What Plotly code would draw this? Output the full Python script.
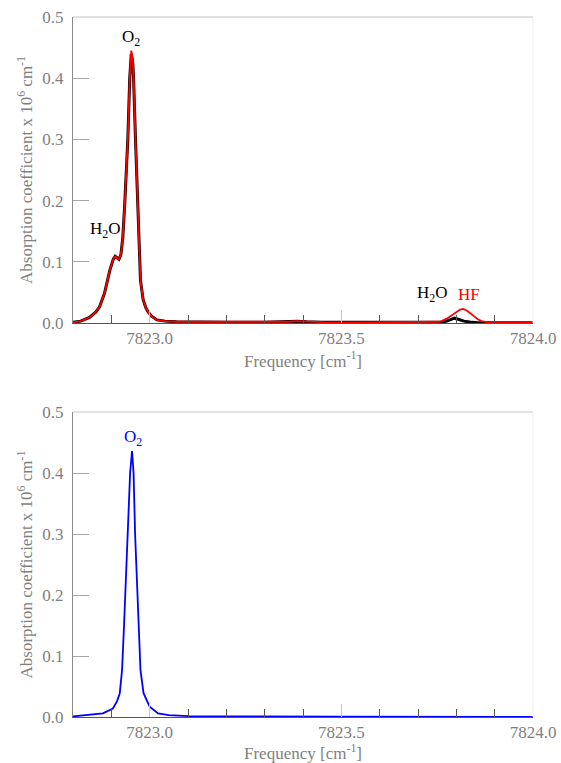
import plotly.graph_objects as go

# ---- data ----
top_black_x = [7822.80, 7822.82, 7822.843, 7822.86, 7822.869, 7822.882, 7822.896, 7822.905, 7822.910,
               7822.915, 7822.920, 7822.925, 7822.930, 7822.935, 7822.939, 7822.943, 7822.948, 7822.952,
               7822.956, 7822.958, 7822.963, 7822.966, 7822.970, 7822.973, 7822.976, 7822.983, 7822.990,
               7822.996, 7823.005, 7823.019, 7823.04, 7823.07, 7823.10, 7823.20, 7823.30, 7823.36,
               7823.385, 7823.41, 7823.45, 7823.55, 7823.62, 7823.70, 7823.76, 7823.775, 7823.785,
               7823.795, 7823.805, 7823.82, 7823.835, 7823.855, 7823.90, 7824.0]
top_black_y = [0.001, 0.003, 0.009, 0.018, 0.026, 0.048, 0.086, 0.104, 0.109,
               0.107, 0.104, 0.112, 0.140, 0.195, 0.250, 0.300, 0.400, 0.440,
               0.425, 0.400, 0.300, 0.250, 0.160, 0.110, 0.070, 0.038, 0.025,
               0.018, 0.011, 0.005, 0.003, 0.002, 0.0015, 0.001, 0.001, 0.002,
               0.003, 0.002, 0.001, 0.001, 0.001, 0.001, 0.001, 0.003, 0.006,
               0.0078, 0.006, 0.003, 0.0015, 0.0005, 0.0003, 0.0003]

top_red_x = [7822.80, 7822.82, 7822.843, 7822.86, 7822.869, 7822.882, 7822.896, 7822.905, 7822.910,
             7822.915, 7822.920, 7822.925, 7822.930, 7822.935, 7822.939, 7822.943, 7822.948, 7822.952,
             7822.956, 7822.958, 7822.963, 7822.966, 7822.970, 7822.973, 7822.976, 7822.983, 7822.990,
             7822.996, 7823.005, 7823.019, 7823.04, 7823.07, 7823.10, 7823.20, 7823.30, 7823.36,
             7823.385, 7823.41, 7823.45, 7823.55, 7823.62, 7823.70, 7823.74, 7823.757, 7823.775,
             7823.788, 7823.800, 7823.810, 7823.818, 7823.828, 7823.844, 7823.856, 7823.866,
             7823.88, 7823.90, 7824.0]
top_red_y = [0.001, 0.003, 0.009, 0.018, 0.026, 0.048, 0.086, 0.104, 0.109,
             0.107, 0.104, 0.112, 0.140, 0.195, 0.250, 0.300, 0.400, 0.445,
             0.430, 0.405, 0.300, 0.250, 0.160, 0.110, 0.070, 0.038, 0.025,
             0.018, 0.011, 0.005, 0.003, 0.002, 0.002, 0.0015, 0.0015, 0.002,
             0.003, 0.002, 0.0015, 0.001, 0.001, 0.001, 0.001, 0.002, 0.007,
             0.013, 0.018, 0.022, 0.023, 0.020, 0.012, 0.006, 0.003,
             0.0015, 0.001, 0.001]

bot_blue_x = [7822.80, 7822.84, 7822.878, 7822.904, 7822.915, 7822.922, 7822.928, 7822.933, 7822.938,
              7822.941, 7822.944, 7822.949, 7822.954, 7822.958, 7822.962, 7822.965, 7822.968, 7822.971,
              7822.976, 7822.984, 7823.000, 7823.022, 7823.05, 7823.10, 7823.20, 7823.50, 7824.0]
bot_blue_y = [0.001, 0.003, 0.006, 0.014, 0.026, 0.039, 0.077, 0.148, 0.220,
              0.257, 0.300, 0.400, 0.436, 0.400, 0.300, 0.257, 0.200, 0.148,
              0.077, 0.039, 0.017, 0.006, 0.003, 0.0015, 0.001, 0.0005, 0.0003]

x_range = [7822.8, 7824.0]
x_tickvals = [7823.0, 7823.5, 7824.0]
x_ticktext = ["7823.0", "7823.5", "7824.0"]
y_range = [0, 0.5]
x_title = "Frequency [cm<sup>-1</sup>]"
y_title = "Absorption coefficient x 10<sup>6</sup> cm<sup>-1</sup>"

FONT = "Liberation Serif"
GRAY = "#7f7f7f"

fig = go.Figure()
fig.add_trace(go.Scatter(x=top_black_x, y=top_black_y, mode="lines",
                         line=dict(color="#000000", width=3), xaxis="x", yaxis="y", showlegend=False))
fig.add_trace(go.Scatter(x=top_red_x, y=top_red_y, mode="lines",
                         line=dict(color="#ff0000", width=1.8), xaxis="x", yaxis="y", showlegend=False))
fig.add_trace(go.Scatter(x=bot_blue_x, y=bot_blue_y, mode="lines",
                         line=dict(color="#0000ff", width=1.8), xaxis="x2", yaxis="y2", showlegend=False))

def xax(anchor):
    return dict(range=x_range, anchor=anchor, showgrid=False, zeroline=False, automargin=False,
                showline=True, linecolor="#555555", linewidth=1,
                tickmode="array", tickvals=x_tickvals, ticktext=x_ticktext,
                ticks="inside", ticklen=13, tickcolor="#c8c8c8", tickwidth=1,
                minor=dict(ticks="inside", ticklen=8, tickcolor="#555555", dtick=0.1, tick0=7823.0),
                tickfont=dict(family=FONT, size=17, color=GRAY),
                title=dict(text=x_title, font=dict(family=FONT, size=17, color=GRAY), standoff=3))

def yax(anchor, domain):
    return dict(range=y_range, domain=domain, anchor=anchor, showgrid=False, zeroline=False, automargin=False,
                showline=True, linecolor="#888888", linewidth=1,
                dtick=0.1, tickformat=".1f",
                ticks="inside", ticklen=16, tickcolor="#a6a6a6", tickwidth=1,
                ticklabelstandoff=5,
                tickfont=dict(family=FONT, size=17, color=GRAY),
                title=dict(text=y_title, font=dict(family=FONT, size=17, color=GRAY), standoff=5))

fig.update_layout(
    width=561, height=763,
    margin=dict(l=73, r=28, t=17, b=46),
    paper_bgcolor="white", plot_bgcolor="white",
    font=dict(family=FONT),
    xaxis=xax("y"), yaxis=yax("x", [0.5629, 1.0]),
    xaxis2=xax("y2"), yaxis2=yax("x2", [0.0, 0.4357]),
)

# plot borders (top light gray, right very light)
for xr, yr in [("x domain", "y domain"), ("x2 domain", "y2 domain")]:
    fig.add_shape(type="line", xref=xr, yref=yr, x0=0, x1=1, y0=1, y1=1,
                  line=dict(color="#d9d9d9", width=1.5))
    fig.add_shape(type="line", xref=xr, yref=yr, x0=1, x1=1, y0=0, y1=1,
                  line=dict(color="#f0f0f0", width=1))

ann_font = dict(family=FONT, size=17)
fig.add_annotation(x=7822.950, y=0.466, xref="x", yref="y", text="O<sub>2</sub>", showarrow=False,
                   font=dict(**ann_font, color="black"))
fig.add_annotation(x=7822.884, y=0.152, xref="x", yref="y", text="H<sub>2</sub>O", showarrow=False,
                   font=dict(**ann_font, color="black"))
fig.add_annotation(x=7823.739, y=0.047, xref="x", yref="y", text="H<sub>2</sub>O", showarrow=False,
                   font=dict(**ann_font, color="black"))
fig.add_annotation(x=7823.833, y=0.047, xref="x", yref="y", text="HF", showarrow=False,
                   font=dict(**ann_font, color="#ff0000"))
fig.add_annotation(x=7822.956, y=0.457, xref="x2", yref="y2", text="O<sub>2</sub>", showarrow=False,
                   font=dict(**ann_font, color="#0000ff"))

fig.write_html("out.html", config={"displayModeBar": False},
               post_script="document.body.style.margin='0';")
